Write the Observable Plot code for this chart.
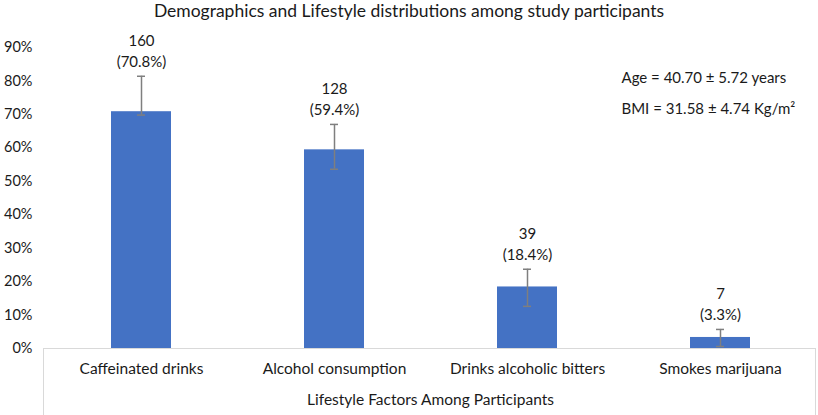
<!DOCTYPE html>
<html>
<head>
<meta charset="utf-8">
<script src="https://cdn.jsdelivr.net/npm/d3@7"></script>
<script src="https://cdn.jsdelivr.net/npm/@observablehq/plot@0.6"></script>
<style>
  body { margin: 0; background: #fff; font-family: Lato, "Open Sans", sans-serif; }
  #title { height: 26px; line-height: 22px; text-align: center; font-size: 17.5px; color: #1a1a1a; white-space: nowrap; }
</style>
</head>
<body>
<div id="title">Demographics and Lifestyle distributions among study participants</div>
<div id="chart"></div>
<script>
const categories = ["Caffeinated drinks", "Alcohol consumption", "Drinks alcoholic bitters", "Smokes marijuana"];
const counts = [160, 128, 39, 7];
const percents = [70.8, 59.4, 18.4, 3.3];
const errLow = [69.8, 53.6, 12.6, 0.6];
const errHigh = [81.4, 67.0, 23.7, 5.7];
const yTicks = [0, 10, 20, 30, 40, 50, 60, 70, 80, 90];
const notes = ["Age = 40.70 ± 5.72 years", "BMI = 31.58 ± 4.74 Kg/m²"];

const data = categories.map((c, i) => ({
  cat: c, count: counts[i], pctLabel: percents[i].toFixed(1), pct: percents[i] / 100,
  lo: errLow[i] / 100, hi: errHigh[i] / 100
}));

const chart = Plot.plot({
  width: 818,
  height: 389,
  marginTop: 21,
  marginBottom: 67,
  marginLeft: 43,
  marginRight: 1,
  style: { fontFamily: "Lato, 'Open Sans', sans-serif", color: "#1a1a1a", background: "#fff" },
  x: { domain: categories, paddingInner: 0.69, paddingOuter: 0.345 },
  y: { domain: [0, 0.9] },
  marks: [
    Plot.frame({ stroke: "#d9d9d9", insetTop: 301, insetBottom: -70, insetRight: 2 }),
    Plot.barY(data, { x: "cat", y: "pct", fill: "#4472c4" }),
    Plot.ruleX(data, { x: "cat", y1: "lo", y2: "hi", stroke: "#7f7f7f", strokeWidth: 1.5 }),
    Plot.tickY(data, { x: "cat", y: "lo", stroke: "#7f7f7f", strokeWidth: 1.5, insetLeft: 26, insetRight: 26 }),
    Plot.tickY(data, { x: "cat", y: "hi", stroke: "#7f7f7f", strokeWidth: 1.5, insetLeft: 26, insetRight: 26 }),
    Plot.text(data, {
      x: "cat", y: "hi",
      text: d => `${d.count}\n(${d.pctLabel}%)`,
      lineAnchor: "bottom", dy: -9, lineHeight: 1.4, fontSize: 15, fill: "#1a1a1a"
    }),
    Plot.text([notes.join("\n")], {
      frameAnchor: "top-right", textAnchor: "start", lineAnchor: "middle",
      dx: -196, dy: 41, lineHeight: 2.1, fontSize: 15, fill: "#1a1a1a"
    }),
    Plot.axisY({
      ticks: yTicks.map(v => v / 100), tickFormat: d => `${Math.round(d * 100)}%`,
      tickSize: 0, tickPadding: 11, fontSize: 14.5, fill: "#1a1a1a", label: null
    }),
    Plot.axisX({
      tickSize: 0, tickPadding: 14, fontSize: 15.5, fill: "#1a1a1a", label: null
    }),
    Plot.text(["Lifestyle Factors Among Participants"], {
      frameAnchor: "bottom", lineAnchor: "middle", dy: 52, fontSize: 15.5, fill: "#1a1a1a"
    })
  ]
});
document.getElementById("chart").appendChild(chart);
</script>
</body>
</html>
